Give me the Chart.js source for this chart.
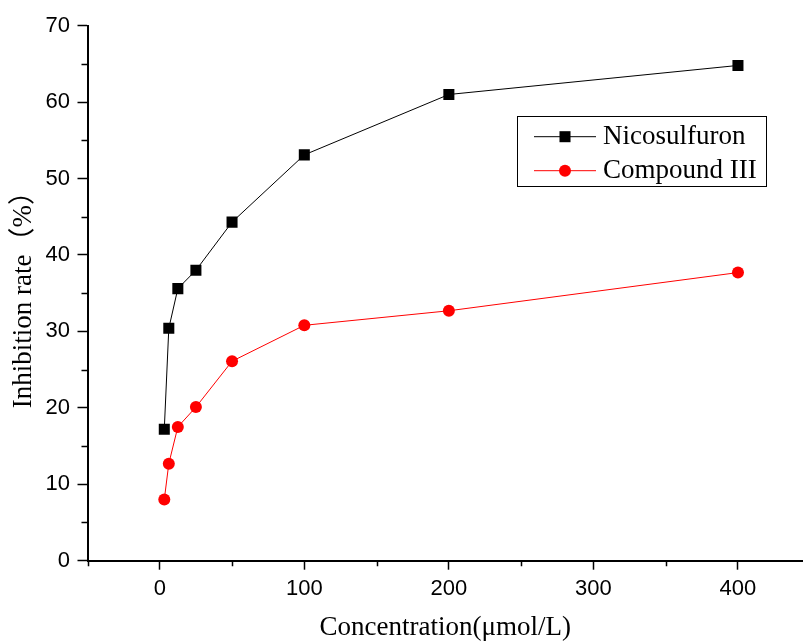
<!DOCTYPE html>
<html><head><meta charset="utf-8">
<script src="https://cdn.jsdelivr.net/npm/chart.js@4.4.1/dist/chart.umd.min.js"></script>
<style>html,body{margin:0;padding:0;background:#fff;overflow:hidden}</style>
</head><body>
<canvas id="c" width="803" height="644"></canvas>
<script>
const concentrations = [3.125, 6.25, 12.5, 25, 50, 100, 200, 400];
const nicosulfuron = [17.2, 30.4, 35.6, 38.0, 44.3, 53.1, 61.0, 64.8];
const compoundIII = [8.0, 12.7, 17.5, 20.1, 26.1, 30.8, 32.7, 37.7];
const seriesNames = ['Nicosulfuron', 'Compound III'];
const xMajorTicks = [0, 100, 200, 300, 400];
const xMinorTicks = [-50, 50, 150, 250, 350];
const yMajorTicks = [0, 10, 20, 30, 40, 50, 60, 70];
const yMinorTicks = [5, 15, 25, 35, 45, 55, 65];
const xTitle = 'Concentration(\u03bcmol/L)';
const yTitle = 'Inhibition rate\uff08%\uff09';

const toPoints = (ys) => concentrations.map((x, i) => ({x: x, y: ys[i]}));

const minorTicksPlugin = {
  id: 'minorTicks',
  afterDraw(chart) {
    const ctx = chart.ctx, xs = chart.scales.x, ys = chart.scales.y;
    ctx.save();
    ctx.strokeStyle = '#000';
    ctx.lineWidth = 1.5;
    ctx.beginPath();
    xMinorTicks.forEach(v => {
      const p = Math.round(xs.getPixelForValue(v)) + 0.5;
      ctx.moveTo(p, xs.top); ctx.lineTo(p, xs.top + 5.5);
    });
    yMinorTicks.forEach(v => {
      const p = Math.round(ys.getPixelForValue(v)) + 0.5;
      ctx.moveTo(ys.right - 6, p); ctx.lineTo(ys.right, p);
    });
    ctx.stroke();
    ctx.restore();
  }
};

const boxLegendPlugin = {
  id: 'boxLegend',
  afterDraw(chart) {
    const ctx = chart.ctx;
    const box = {l: 517.5, t: 116.5, r: 766.5, b: 186.5};
    ctx.save();
    ctx.fillStyle = '#fff';
    ctx.fillRect(box.l, box.t, box.r - box.l, box.b - box.t);
    ctx.strokeStyle = '#000';
    ctx.lineWidth = 1;
    ctx.strokeRect(box.l, box.t, box.r - box.l, box.b - box.t);
    const rows = [136.7, 170.7];
    chart.data.datasets.forEach((ds, i) => {
      const y = rows[i];
      ctx.strokeStyle = ds.borderColor;
      ctx.lineWidth = ds.borderWidth;
      ctx.beginPath();
      ctx.moveTo(534, y); ctx.lineTo(596, y);
      ctx.stroke();
      ctx.fillStyle = ds.pointBackgroundColor;
      ctx.strokeStyle = ds.pointBorderColor;
      ctx.lineWidth = ds.pointBorderWidth;
      Chart.helpers.drawPoint(ctx, {pointStyle: ds.pointStyle, radius: ds.pointRadius, rotation: 0, borderWidth: ds.pointBorderWidth}, 565, y);
      ctx.fillStyle = '#000';
      ctx.font = '27px "Liberation Serif", "Times New Roman", serif';
      ctx.textBaseline = 'middle';
      ctx.textAlign = 'left';
      ctx.fillText(ds.label, 603, y);
    });
    ctx.restore();
  }
};

new Chart(document.getElementById('c'), {
  type: 'line',
  data: {
    datasets: [
      {
        label: seriesNames[0],
        data: toPoints(nicosulfuron),
        borderColor: '#000000',
        borderWidth: 1,
        pointStyle: 'rect',
        pointRadius: 7.8,
        pointBackgroundColor: '#000000',
        pointBorderColor: '#000000',
        pointBorderWidth: 0,
        tension: 0
      },
      {
        label: seriesNames[1],
        data: toPoints(compoundIII),
        borderColor: '#ff0000',
        borderWidth: 1,
        pointStyle: 'circle',
        pointRadius: 6,
        pointBackgroundColor: '#ff0000',
        pointBorderColor: '#ff0000',
        pointBorderWidth: 0,
        tension: 0
      }
    ]
  },
  options: {
    responsive: false,
    devicePixelRatio: 1,
    animation: false,
    layout: {autoPadding: false, padding: {top: 25.7, right: 0, bottom: 0, left: 0}},
    plugins: {legend: {display: false}, tooltip: {enabled: false}},
    scales: {
      x: {
        type: 'linear',
        min: -50,
        max: 445,
        afterBuildTicks: (s) => { s.ticks = xMajorTicks.map(v => ({value: v})); },
        afterFit: (s) => { s.height = 83.3; s.paddingRight = 0; s.paddingLeft = 0; },
        border: {display: true, color: '#000', width: 2},
        grid: {drawOnChartArea: false, drawTicks: true, tickLength: 9, tickColor: '#000', tickWidth: 1.5},
        ticks: {
          color: '#000',
          font: {family: '"Liberation Sans", Arial, sans-serif', size: 22},
          padding: 6,
          maxRotation: 0,
          autoSkip: false
        },
        title: {
          display: true,
          text: xTitle,
          color: '#000',
          font: {family: '"Liberation Serif", "Times New Roman", serif', size: 27},
          padding: {top: 0, bottom: 0}
        }
      },
      y: {
        type: 'linear',
        min: 0,
        max: 70,
        afterBuildTicks: (s) => { s.ticks = yMajorTicks.map(v => ({value: v})); },
        afterFit: (s) => { s.width = 87.5; s.paddingTop = 0; s.paddingBottom = 0; },
        border: {display: true, color: '#000', width: 2},
        grid: {drawOnChartArea: false, drawTicks: true, tickLength: 10, tickColor: '#000', tickWidth: 1.5},
        ticks: {
          color: '#000',
          font: {family: '"Liberation Sans", Arial, sans-serif', size: 22},
          padding: 7.5,
          autoSkip: false
        },
        title: {
          display: true,
          text: yTitle,
          color: '#000',
          font: {family: '"Liberation Serif", "Times New Roman", "Noto Sans CJK SC", serif', size: 27},
          padding: {top: 7.8, bottom: 0}
        }
      }
    }
  },
  plugins: [minorTicksPlugin, boxLegendPlugin]
});
</script>
</body></html>
